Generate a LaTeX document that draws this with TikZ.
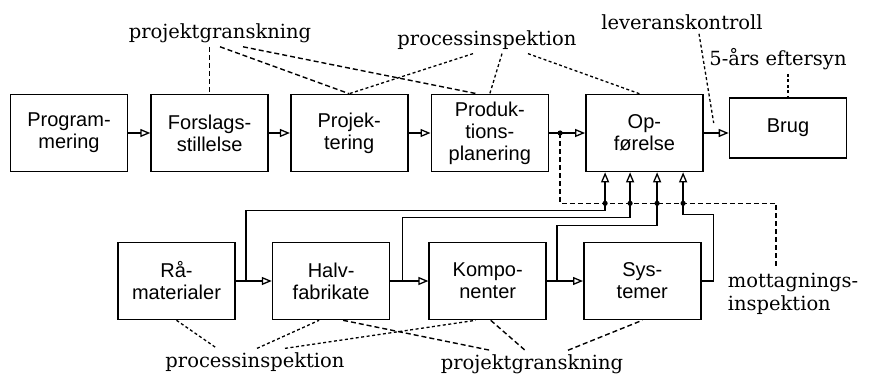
\documentclass[tikz,border=0pt]{standalone}
\usepackage{fontspec}
\setmainfont{DejaVu Serif}
\setsansfont{Liberation Sans}
\usetikzlibrary{arrows.meta, positioning, calc}

\begin{document}
\begin{tikzpicture}[x=1pt, y=-1pt,
    stage/.style={
        draw,
        line width=1.6pt,
        minimum width=117pt,
        minimum height=77pt,
        inner sep=0pt,
        align=center,
        font=\sffamily\fontsize{20}{22}\selectfont
    },
    lbl/.style={
        font=\fontsize{19.5}{23}\selectfont,
        inner sep=4pt
    },
    flow/.style={
        -{Triangle[open, length=10pt, width=8pt]},
        line width=1.3pt
    },
    review/.style={
        dash pattern=on 5pt off 3pt,
        line width=1.4pt
    },
    insp/.style={
        dash pattern=on 3pt off 2.5pt,
        line width=1.3pt
    },
    junction/.style={
        fill=black
    }
]

\useasboundingbox (0,0) rectangle (871,376);

% =====================
% Top row: building process
% =====================

\node[stage] (prog) at (69,133) {Program-\\mering};
\node[stage, right=22pt of prog] (forslag) {Forslags-\\stillelse};
\node[stage, right=21pt of forslag] (projek) {Projek-\\tering};
\node[stage, right=22pt of projek] (produk) {Produk-\\tions-\\planering};
\node[stage, right=36pt of produk] (opf) {Op-\\førelse};
\node[stage, minimum height=60pt, right=25pt of opf, yshift=5pt] (brug) {Brug};

\foreach \a/\b in {prog/forslag, forslag/projek, projek/produk}
    \draw[flow] (\a) -- (\b);

\coordinate (tap) at ($(produk.east)+(11,0)$);
\draw[flow] (produk) -- (opf);
\draw[flow] (opf.east) -- (opf.east -| brug.west);

% =====================
% Bottom row: supply chain
% =====================

\node[stage] (raa) at (176.5,281) {Rå-\\materialer};
\node[stage, right=36pt of raa] (halv) {Halv-\\fabrikate};
\node[stage, right=38pt of halv] (komp) {Kompo-\\nenter};
\node[stage, right=36pt of komp] (sys) {Sys-\\temer};

\draw[flow] (raa) -- (halv);
\draw[flow] (halv) -- (komp);
\draw[flow] (komp) -- (sys);

\coordinate (b1) at ($(raa.east)!0.28!(halv.west)$);
\coordinate (b2) at ($(halv.east)!0.32!(komp.west)$);
\coordinate (b3) at ($(komp.east)!0.28!(sys.west)$);

% inputs to Opfoerelse
\foreach \n/\dx in {1/20, 2/45, 3/72, 4/98}
    \coordinate (in\n) at ($(opf.south west)+(\dx,0)$);
\coordinate (dline) at ($(opf.south)+(0,31)$);

\draw[flow] (b1) |- ($(in1)+(0,38)$) -- (in1);
\draw[flow] (b2) |- ($(in2)+(0,45)$) -- (in2);
\draw[flow] (b3) |- ($(in3)+(0,53)$) -- (in3);
\draw[flow] (sys.east) -- ++(12,0) |- ($(in4)+(0,42)$) -- (in4);

% =====================
% Inspection labels
% =====================

\node[lbl] (pg1) at (220,33) {projektgranskning};
\node[lbl] (pi1) at (487,40) {processinspektion};
\node[lbl] (lk) at (682,22) {leveranskontroll};
\node[lbl] (fy) at (778,59) {5-års eftersyn};
\node[lbl, align=left] (mi) at (793,294) {mottagnings-\\inspektion};
\node[lbl] (pi2) at (255,362) {processinspektion};
\node[lbl] (pg2) at (532,364) {projektgranskning};

\coordinate (lkend) at ($(opf.east)+(10,-10)$);
\coordinate (mtop) at ($(mi.north)+(-17,0)$);

\draw[review] (pg1.south -| forslag.north) -- (forslag.north);
\draw[review] (pg1.south) -- (projek.north);
\draw[review] ($(pg1.south)+(23,0)$) -- ($(produk.north)+(-13,0)$);

\draw[insp] ($(pi1.south)+(-14,0)$) -- (projek.north);
\draw[insp] ($(pi1.south)+(15,0)$) -- (produk.north);
\draw[insp] ($(pi1.south)+(41,0)$) -- ($(opf.north)+(-5,0)$);
\draw[insp] ($(lk.south)+(17,0)$) -- (lkend);
\draw[insp] (fy.south -| brug.north) -- (brug.north);

\draw[review] (tap) |- (dline -| mtop) -- (mtop);

\draw[insp] (raa.south) -- ($(pi2.north)+(-38,0)$);
\draw[insp] ($(pi2.north)+(2,0)$) -- ($(halv.south)+(-12,0)$);
\draw[insp] ($(pi2.north)+(30,0)$) -- ($(komp.south)+(-12,0)$);
\draw[review] ($(halv.south)+(12,0)$) -- ($(pg2.north)+(-42,0)$);
\draw[review] ($(komp.south)+(3,0)$) -- ($(pg2.north)+(-7,0)$);
\draw[review] ($(pg2.north)+(36,0)$) -- (sys.south);

% junction dots
\fill[junction] (tap) circle[radius=2.6pt];
\foreach \n in {1,...,4}
    \fill[junction] (in\n |- dline) circle[radius=2.6pt];

\end{tikzpicture}
\end{document}
